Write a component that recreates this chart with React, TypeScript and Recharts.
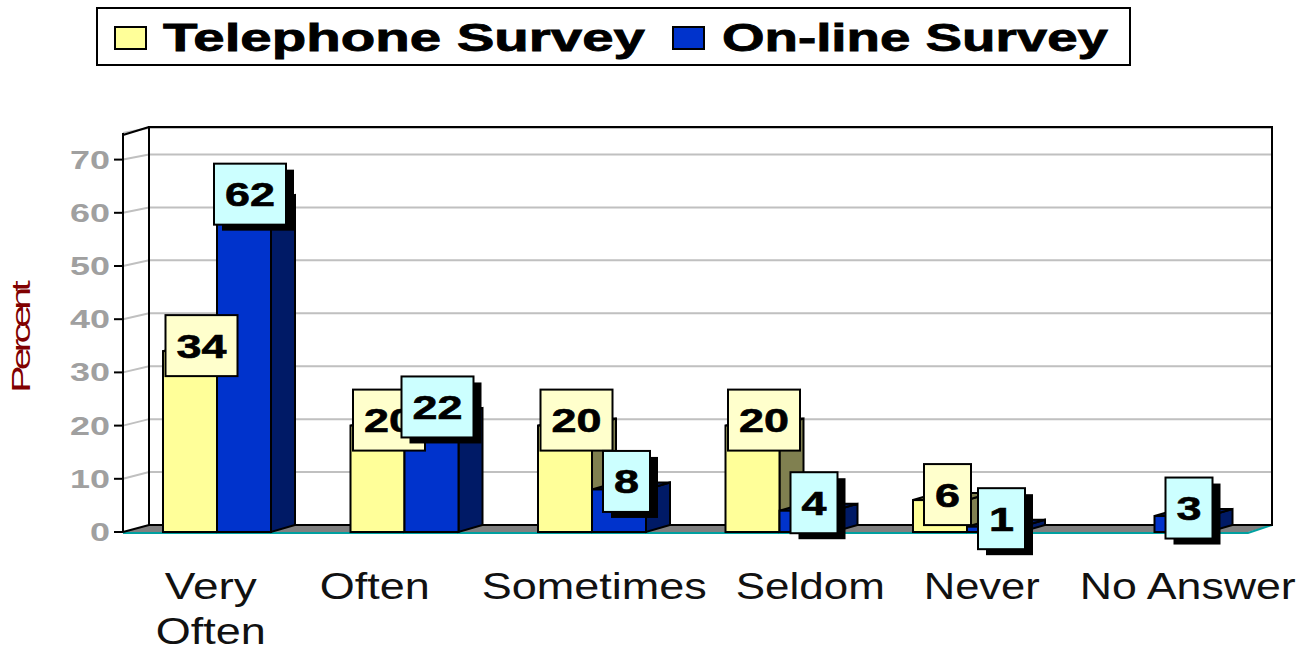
// Telephone vs on-line survey, fake-3D grouped bars with boxed value labels.
import { BarChart, Bar, XAxis, YAxis, CartesianGrid, LabelList, Legend } from 'recharts';

// ─── Data ─────────────────────────────────────────────────────────────────────

const categories = ['Very Often', 'Often', 'Sometimes', 'Seldom', 'Never', 'No Answer'];
const telephoneSurvey = [34, 20, 20, 20, 6, 0];
const onlineSurvey = [62, 22, 8, 4, 1, 3];
const yTicks = [0, 10, 20, 30, 40, 50, 60, 70];

const chartData = categories.map((name, i) => ({
  name,
  telephone: telephoneSurvey[i],
  online: onlineSurvey[i],
}));

// ─── Layout ───────────────────────────────────────────────────────────────────

const W = 1310;
const H = 647;
const FRONT_LEFT = 123;
const FRONT_RIGHT = 1248;
const FRONT_BOTTOM = 532;
const FRONT_TOP = 133;
const DEPTH_X = 24;
const DEPTH_Y = 7;
const BACK_LEFT = 149;
const BACK_RIGHT = 1272;
const BACK_BOTTOM = 525;
const BACK_TOP = 127;
const FONT = '"Liberation Sans", Arial, sans-serif';

// the source image is stretched sideways, so text widths are forced
const tickLabels: Record<string, { dx: number; lines: [string, number][] }> = {
  'Very Often': { dx: -6, lines: [['Very', 92], ['Often', 110]] },
  Often: { dx: -29.5, lines: [['Often', 110]] },
  Sometimes: { dx: 2.5, lines: [['Sometimes', 225]] },
  Seldom: { dx: 31, lines: [['Seldom', 149]] },
  Never: { dx: 15, lines: [['Never', 116]] },
  'No Answer': { dx: 33.5, lines: [['No Answer', 216]] },
};

// ─── Pieces ───────────────────────────────────────────────────────────────────

function Frame() {
  return (
    <g>
      <polygon
        points={`${FRONT_LEFT},${FRONT_BOTTOM} ${BACK_LEFT},${BACK_BOTTOM} ${BACK_RIGHT},${BACK_BOTTOM} ${FRONT_RIGHT},${FRONT_BOTTOM}`}
        fill="#808080"
      />
      <polyline
        points={`${FRONT_LEFT},${FRONT_BOTTOM + 1} ${FRONT_RIGHT},${FRONT_BOTTOM + 1} ${BACK_RIGHT},${BACK_BOTTOM}`}
        fill="none"
        stroke="#00A0A0"
        strokeWidth={2}
      />
      <polyline
        points={`${BACK_LEFT},${BACK_BOTTOM} ${BACK_LEFT},${BACK_TOP} ${BACK_RIGHT},${BACK_TOP} ${BACK_RIGHT},${BACK_BOTTOM} ${BACK_LEFT},${BACK_BOTTOM} ${FRONT_LEFT},${FRONT_BOTTOM}`}
        fill="none"
        stroke="#000"
        strokeWidth={2}
      />
      <line x1={FRONT_LEFT} y1={FRONT_TOP + 2} x2={BACK_LEFT} y2={BACK_TOP} stroke="#000" strokeWidth={2} />
    </g>
  );
}

function gridLine(props: any) {
  const { y1, key } = props;
  if (y1 >= FRONT_BOTTOM - 1) return <g key={key} />;
  const backY = BACK_BOTTOM - (FRONT_BOTTOM - y1) * 0.995;
  return (
    <polyline
      key={key}
      points={`${FRONT_LEFT},${y1} ${BACK_LEFT},${backY} ${BACK_RIGHT},${backY}`}
      fill="none"
      stroke="#C0C0C0"
      strokeWidth={2}
    />
  );
}

function makeBarShape(front: string, side: string) {
  return function BarShape(props: any) {
    const { x, y, width, height } = props;
    if (!height || height <= 0) return <g />;
    const r = x + width;
    const b = y + height;
    return (
      <g stroke="#000" strokeWidth={2} strokeLinejoin="miter">
        <polygon
          points={`${r},${y} ${r + DEPTH_X},${y - DEPTH_Y} ${r + DEPTH_X},${b - DEPTH_Y} ${r},${b}`}
          fill={side}
        />
        <polygon
          points={`${x},${y} ${x + DEPTH_X},${y - DEPTH_Y} ${r + DEPTH_X},${y - DEPTH_Y} ${r},${y}`}
          fill={side}
        />
        <rect x={x} y={y} width={width} height={height} fill={front} />
      </g>
    );
  };
}

function makeValueBox(fill: string, shadow: boolean, dx2: number, dx1: number, dy: number) {
  return function ValueBox(props: any) {
    const { x, y, width, value } = props;
    if (!value) return <g />;
    const twoDigit = value >= 10;
    const boxW = twoDigit ? 72 : 47;
    const boxH = 61;
    const cx = x + width / 2 + (twoDigit ? dx2 : dx1);
    const cy = y + dy;
    return (
      <g>
        {shadow && <rect x={cx - boxW / 2 + 8} y={cy - boxH / 2 + 6} width={boxW} height={boxH} fill="#000" />}
        <rect x={cx - boxW / 2} y={cy - boxH / 2} width={boxW} height={boxH} fill={fill} stroke="#000" strokeWidth={2} />
        <text
          x={cx}
          y={cy + 12}
          textAnchor="middle"
          fontFamily={FONT}
          fontWeight="bold"
          fontSize={33}
          fill="#000"
          stroke="#000"
          strokeWidth={0.6}
          textLength={twoDigit ? 50 : 25}
          lengthAdjust="spacingAndGlyphs"
        >
          {value}
        </text>
      </g>
    );
  };
}

function CategoryTick(props: any) {
  const { x, payload } = props;
  const info = tickLabels[payload.value];
  if (!info) return <g />;
  return (
    <g>
      {info.lines.map(([line, len], i) => (
        <text
          key={line}
          x={x + info.dx}
          y={599 + i * 45}
          textAnchor="middle"
          fontFamily={FONT}
          fontSize={36}
          fill="#111"
          textLength={len}
          lengthAdjust="spacingAndGlyphs"
        >
          {line}
        </text>
      ))}
    </g>
  );
}

function PercentTick(props: any) {
  const { y, payload } = props;
  const label = String(payload.value);
  return (
    <text
      x={110}
      y={y + 9}
      textAnchor="end"
      fontFamily={FONT}
      fontWeight="bold"
      fontSize={25}
      fill="#A0A0A0"
      textLength={label.length * 20}
      lengthAdjust="spacingAndGlyphs"
    >
      {label}
    </text>
  );
}

function PercentLabel() {
  // glyphs are wide and overlap each other in the source
  return (
    <text
      transform="translate(30,339) rotate(-90) scale(1.65,1)"
      textAnchor="middle"
      fontFamily={FONT}
      fontSize={25}
      fill="#800000"
      letterSpacing={-3}
    >
      Percent
    </text>
  );
}

function LegendBox() {
  const text = (label: string, x: number, len: number) => (
    <text
      x={x}
      y={51}
      fontFamily={FONT}
      fontWeight="bold"
      fontSize={38}
      fill="#000"
      stroke="#000"
      strokeWidth={0.8}
      textLength={len}
      lengthAdjust="spacingAndGlyphs"
    >
      {label}
    </text>
  );
  return (
    <svg width={W} height={70} style={{ display: 'block' }}>
      <rect x={97} y={8} width={1033} height={57} fill="#fff" stroke="#000" strokeWidth={2} />
      <rect x={115} y={27} width={31} height={22} fill="#FFFF99" stroke="#000" strokeWidth={2} />
      {text('Telephone Survey', 163, 482)}
      <rect x={673} y={27} width={31} height={22} fill="#0033CC" stroke="#000" strokeWidth={2} />
      {text('On-line Survey', 722, 386)}
    </svg>
  );
}

// ─── Chart ────────────────────────────────────────────────────────────────────

export default function App() {
  return (
    <div style={{ position: 'absolute', left: 0, top: 0, width: W, height: H, background: '#fff', overflow: 'hidden' }}>
      <BarChart
        width={W}
        height={H}
        data={chartData}
        margin={{ top: FRONT_TOP, right: W - FRONT_RIGHT, bottom: 0, left: 0 }}
        barSize={54}
        barGap={0}
      >
        <Frame />
        <CartesianGrid vertical={false} horizontal={gridLine} />
        <XAxis dataKey="name" height={H - FRONT_BOTTOM} axisLine={false} tickLine={false} tick={<CategoryTick />} interval={0} />
        <YAxis
          width={FRONT_LEFT}
          domain={[0, 75]}
          ticks={yTicks}
          tick={<PercentTick />}
          tickLine={{ stroke: '#000', strokeWidth: 2 }}
          tickSize={9}
          axisLine={{ stroke: '#000', strokeWidth: 2 }}
          label={<PercentLabel />}
        />
        {/* zero-height wrapper so the legend takes no room from the plot */}
        <Legend
          content={<LegendBox />}
          wrapperStyle={{ position: 'absolute', left: 0, top: 0, width: W, height: 0, overflow: 'visible' }}
        />
        <Bar
          dataKey="telephone"
          isAnimationActive={false}
          fill="#FFFF99"
          shape={makeBarShape('#FFFF99', '#808050')}
        >
          <LabelList dataKey="telephone" content={makeValueBox('#FFFFCC', false, 11.5, 7.5, -5.5)} />
        </Bar>
        <Bar
          dataKey="online"
          isAnimationActive={false}
          fill="#0033CC"
          shape={makeBarShape('#0033CC', '#001A66')}
        >
          <LabelList dataKey="online" content={makeValueBox('#CCFFFF', true, 6, 7.5, -8)} />
        </Bar>
      </BarChart>
    </div>
  );
}
